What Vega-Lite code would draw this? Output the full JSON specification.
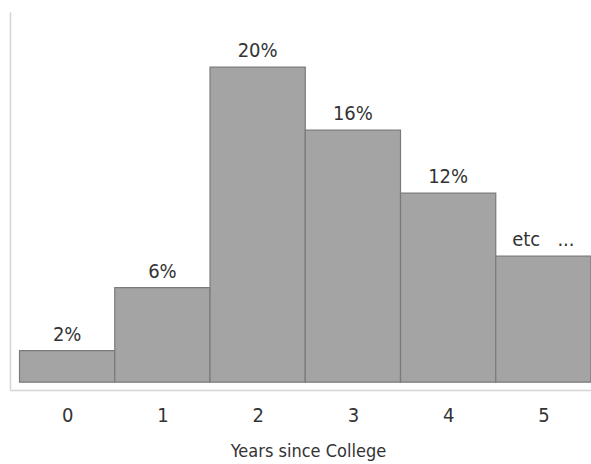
{
  "$schema": "https://vega.github.io/schema/vega-lite/v6.json",
  "width": 581,
  "height": 378,
  "autosize": "none",
  "padding": {"left": 10, "top": 12, "right": 0, "bottom": 74},
  "background": "white",
  "config": {"view": {"stroke": null}, "font": "DejaVu Sans Condensed"},
  "data": {
    "values": [
      {"year": 0, "pct": 2, "label": "2%"},
      {"year": 1, "pct": 6, "label": "6%"},
      {"year": 2, "pct": 20, "label": "20%"},
      {"year": 3, "pct": 16, "label": "16%"},
      {"year": 4, "pct": 12, "label": "12%"},
      {"year": 5, "pct": 8, "label": "etc \u00a0\u00a0..."}
    ]
  },
  "transform": [
    {"calculate": "datum.year - 0.5", "as": "x0"},
    {"calculate": "datum.year + 0.5", "as": "x1"}
  ],
  "encoding": {
    "y": {
      "field": "pct", "type": "quantitative",
      "scale": {"domain": [-0.5, 23.5], "nice": false, "zero": false},
      "axis": {"title": null, "labels": false, "ticks": false, "grid": false, "domainColor": "#d4d4d4", "domainWidth": 1.5}
    }
  },
  "layer": [
    {
      "mark": {"type": "bar", "fill": "#a4a4a4", "stroke": "#7a7a7a", "strokeWidth": 1.2},
      "encoding": {
        "x": {
          "field": "x0", "type": "quantitative",
          "scale": {"domain": [-0.6, 5.5], "nice": false, "zero": false},
          "axis": {
            "title": "Years since College",
            "values": [0, 1, 2, 3, 4, 5],
            "format": "d",
            "ticks": false, "grid": false,
            "domainColor": "#d4d4d4", "domainWidth": 1.5,
            "labelFontSize": 20, "labelColor": "#333333", "labelPadding": 15,
            "titleFontSize": 18, "titleFontWeight": "normal", "titleColor": "#333333", "titlePadding": 17,
            "titleX": 298,
            "labelFont": "DejaVu Sans Condensed", "titleFont": "DejaVu Sans Condensed"
          }
        },
        "x2": {"field": "x1"},
        "y2": {"datum": 0}
      }
    },
    {
      "mark": {"type": "text", "baseline": "alphabetic", "dy": -10, "fontSize": 20, "color": "#333333", "font": "DejaVu Sans Condensed"},
      "encoding": {
        "x": {"field": "year", "type": "quantitative"},
        "text": {"field": "label"}
      }
    }
  ]
}
